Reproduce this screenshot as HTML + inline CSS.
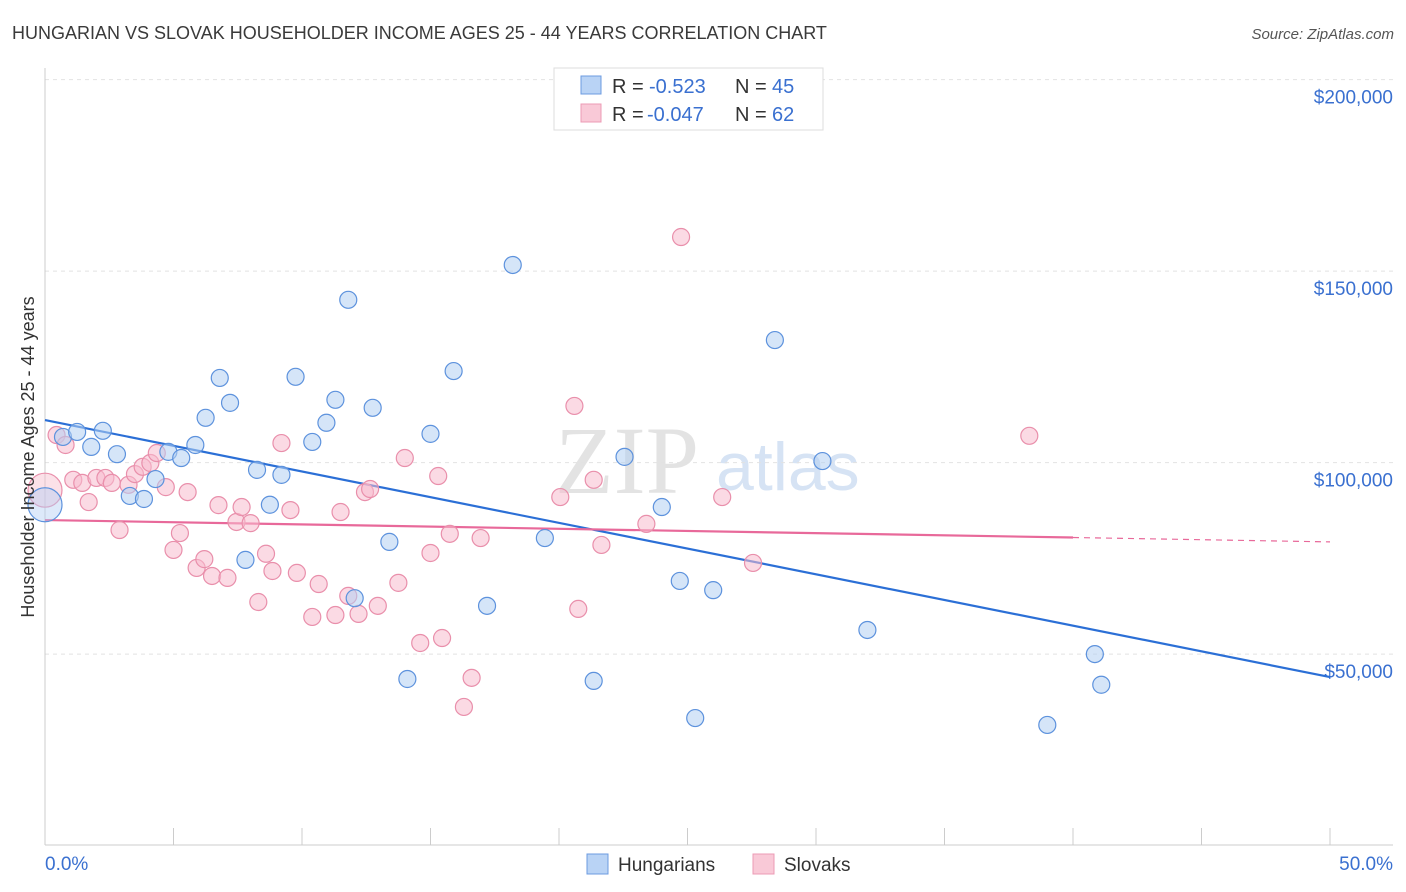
<!DOCTYPE html>
<html><head><meta charset="utf-8">
<style>
body{margin:0;background:#fff;font-family:"Liberation Sans",sans-serif;}
svg{display:block}
</style></head>
<body>
<svg id="chart" width="1406" height="892" viewBox="0 0 1406 892" xmlns="http://www.w3.org/2000/svg">
<text x="12" y="39" font-size="18" fill="#3a3a3a">HUNGARIAN VS SLOVAK HOUSEHOLDER INCOME AGES 25 - 44 YEARS CORRELATION CHART</text>
<text x="1394" y="39" font-size="15" fill="#555" font-style="italic" text-anchor="end">Source: ZipAtlas.com</text>
<g>
<text x="555" y="493" font-size="96" fill="#d8d8d8" font-family="Liberation Serif,serif" opacity="0.7">ZIP</text>
<text x="716" y="490" font-size="68" fill="#c5d8f0" opacity="0.7">atlas</text>
</g>
<g id="grid"></g>
<g id="axes"></g>
<g id="lines"></g>
<g id="points"></g>
<g>
<rect x="554" y="68" width="269" height="62" fill="#fff" stroke="#ddd"/>
<rect x="581" y="76" width="20" height="18" fill="#b9d3f5" stroke="#6c9be0"/>
<rect x="581" y="104" width="20" height="18" fill="#f9c9d7" stroke="#ec9bb4"/>
<text x="612" y="93" font-size="20" fill="#333">R = <tspan x="649" fill="#3a70d0">-0.523</tspan><tspan x="735">N = </tspan><tspan x="772" fill="#3a70d0">45</tspan></text>
<text x="612" y="121" font-size="20" fill="#333">R = <tspan x="647" fill="#3a70d0">-0.047</tspan><tspan x="735">N = </tspan><tspan x="772" fill="#3a70d0">62</tspan></text>
</g>
<g>
<rect x="587" y="854" width="21" height="20" fill="#b9d3f5" stroke="#6c9be0"/>
<text x="618" y="871" font-size="19" fill="#333">Hungarians</text>
<rect x="753" y="854" width="21" height="20" fill="#f9c9d7" stroke="#ec9bb4"/>
<text x="784" y="871" font-size="19" fill="#333">Slovaks</text>
</g>
<text transform="translate(34,457) rotate(-90)" font-size="18" fill="#333" text-anchor="middle">Householder Income Ages 25 - 44 years</text>
</svg>
<script>
const hunX=[0,0.7,1.25,1.8,2.25,2.8,3.3,3.85,4.3,4.8,5.3,5.85,6.25,6.8,7.2,7.8,8.25,8.75,9.2,9.75,10.4,10.95,11.3,11.8,12.05,12.75,13.4,14.1,15.0,15.9,17.2,18.2,19.45,21.35,22.55,24.0,24.7,25.3,26.0,28.4,30.25,32.0,39.0,40.85,41.1];
const hunY=[89.0,106.7,108.0,104.1,108.3,102.2,91.3,90.5,95.7,102.8,101.2,104.6,111.7,122.1,115.6,74.6,98.1,89.0,96.8,122.4,105.4,110.4,116.4,142.5,64.6,114.3,79.3,43.5,107.5,123.9,62.6,151.6,80.3,43.0,101.5,88.4,69.1,33.3,66.7,132.0,100.4,56.3,31.5,50.0,42.0];
const slkX=[0,0.45,0.8,1.1,1.45,1.7,2.0,2.35,2.6,2.9,3.25,3.5,3.8,4.1,4.35,4.7,5.0,5.25,5.55,5.9,6.2,6.5,6.75,7.1,7.45,7.65,8.0,8.3,8.6,8.85,9.2,9.55,9.8,10.4,10.65,11.3,11.5,11.8,12.2,12.45,12.65,12.95,13.75,14.0,14.6,15.0,15.3,15.45,15.75,16.3,16.6,16.95,20.05,20.6,20.75,21.35,21.65,23.4,24.75,26.35,27.55,38.3];
const slkY=[92.8,107.2,104.6,95.5,94.7,89.7,96.0,96.0,94.7,82.4,94.2,97.0,98.9,99.9,102.5,93.6,77.2,81.6,92.3,72.5,74.8,70.4,88.9,69.9,84.5,88.4,84.2,63.6,76.2,71.7,105.1,87.6,71.2,59.7,68.3,60.2,87.1,65.2,60.5,92.3,93.1,62.6,68.6,101.2,52.9,76.4,96.5,54.2,81.4,36.2,43.8,80.3,91.0,114.8,61.8,95.5,78.5,84.0,158.9,91.0,73.8,107.0];
const hunTrend=[111.1,44.0];
const slkTrend=[85.0,79.3];
const yTicks=[50,100,150,200];
const yTickLabels=["$50,000","$100,000","$150,000","$200,000"];
const xTicks=[0,5,10,15,20,25,30,35,40,45,50];

const NS="http://www.w3.org/2000/svg";
const sx=v=>45+v*25.7;
const sy=v=>845.6-v*3.83;
function mk(tag,attrs,parent){const e=document.createElementNS(NS,tag);for(const k in attrs)e.setAttribute(k,attrs[k]);document.getElementById(parent).appendChild(e);return e;}

yTicks.forEach((t,i)=>{
  const g=mk('line',{x1:45,x2:1393,y1:sy(t),y2:sy(t),stroke:'#e2e2e2','stroke-dasharray':'4,4'},'grid');
  
  
  const l=mk('text',{x:1393,y:sy(t)+24,'font-size':19,fill:'#3a70d0','text-anchor':'end'},'axes');
  l.textContent=yTickLabels[i];
  
  
});
const ax=mk('line',{x1:45,x2:1393,y1:845,y2:845,stroke:'#ccc'},'axes');


const ay=mk('line',{x1:45,x2:45,y1:68,y2:845,stroke:'#ccc'},'axes');


xTicks.forEach(t=>{
  const k=mk('line',{x1:sx(t),x2:sx(t),y1:828,y2:845,stroke:'#ccc'},'axes');
  
  
});
const xl0=mk('text',{x:45,y:870,'font-size':19,fill:'#3a70d0'},'axes');xl0.textContent='0.0%';


const xl1=mk('text',{x:1393,y:870,'font-size':19,fill:'#3a70d0','text-anchor':'end'},'axes');xl1.textContent='50.0%';



function drawPts(xs,ys,fill,stroke,name){
  xs.forEach((x,i)=>{
    const big=(i===0);
    const c=mk('circle',{cx:sx(x),cy:sy(ys[i]),r:big?17:8.5,fill:fill,'fill-opacity':big?0.45:0.55,stroke:stroke,'stroke-width':1.2},'points');
    
    
  });
}
drawPts(slkX,slkY,'#f7bccd','#e98fab','slovak-point');
drawPts(hunX,hunY,'#b3cff3','#5d92dd','hungarian-point');

const hl=mk('line',{x1:sx(0),y1:sy(hunTrend[0]),x2:sx(50),y2:sy(hunTrend[1]),stroke:'#2b6fd6','stroke-width':2.2},'lines');


const f=40/50;
const pm=slkTrend[0]+(slkTrend[1]-slkTrend[0])*f;
const pl=mk('line',{x1:sx(0),y1:sy(slkTrend[0]),x2:sx(40),y2:sy(pm),stroke:'#e8699a','stroke-width':2.2},'lines');


const pd=mk('line',{x1:sx(40),y1:sy(pm),x2:sx(50),y2:sy(slkTrend[1]),stroke:'#e8699a','stroke-width':1.2,'stroke-dasharray':'6,5'},'lines');


</script>
</body></html>
